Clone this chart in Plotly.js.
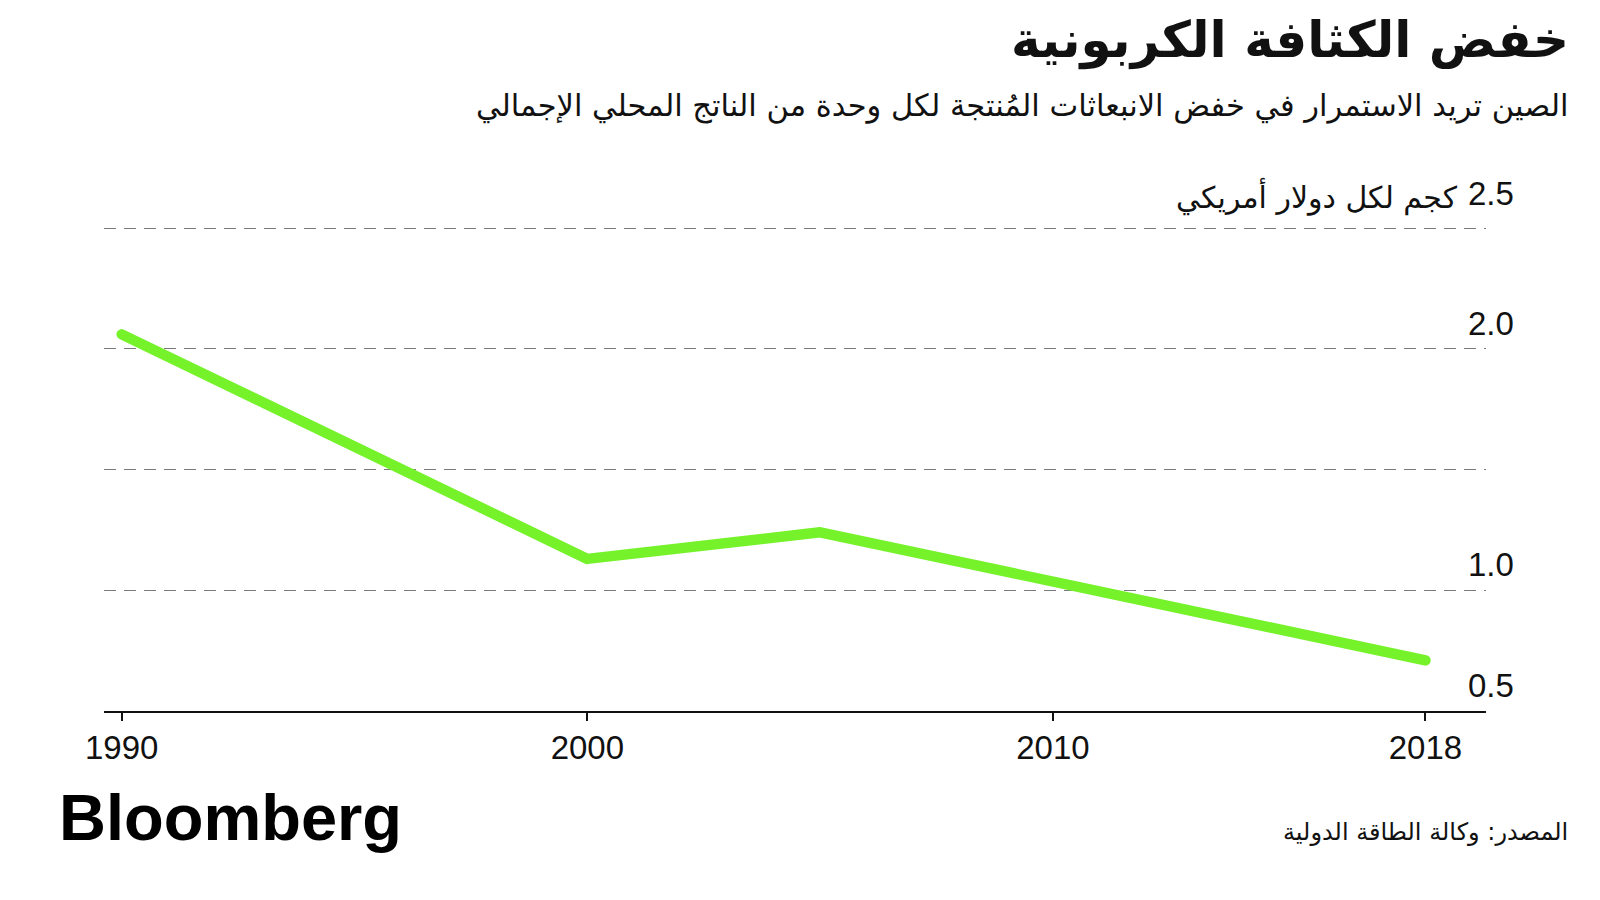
<!DOCTYPE html>
<html><head><meta charset="utf-8">
<script src="https://cdn.plot.ly/plotly-3.0.1.min.js"></script>
<style>
html,body{margin:0;padding:0;background:#fff;}
#chart{width:1600px;height:900px;}
.js-line{stroke-linecap:round !important;stroke-linejoin:round !important;}
</style>
</head><body><div id="chart"></div>
<script>
// ---- data ----
const years = [1990, 2000, 2005, 2010, 2015, 2018];
const intensity = [2.06, 1.13, 1.24, 1.04, 0.84, 0.71];
const xTickVals = [1990, 2000, 2010, 2018];
const xTickText = ['1990', '2000', '2010', '2018'];
const yGridVals = [0.5, 1.0, 1.5, 2.0, 2.5];
const yLabelVals = [0.5, 1.0, 2.0, 2.5];
const yLabelText = ['0.5', '1.0', '2.0', '2.5'];
const yUnit = 'كجم لكل دولار أمريكي';
const titleText = 'خفض الكثافة الكربونية';
const subtitleText = 'الصين تريد الاستمرار في خفض الانبعاثات المُنتجة لكل وحدة من الناتج المحلي الإجمالي';
const sourceText = 'المصدر: وكالة الطاقة الدولية';
const brandText = 'Bloomberg';

// ---- layout helpers ----
const W = 1600, H = 900;
const M = {l: 104, r: 114, t: 204, b: 189};
const pw = W - M.l - M.r, ph = H - M.t - M.b;
const px = p => (p - M.l) / pw;
const py = p => (H - M.b - p) / ph;
const arabic = '"DejaVu Sans", "Noto Sans", sans-serif';
const latin = '"Liberation Sans", Arial, sans-serif';

const annotations = [];
yLabelVals.forEach((v, i) => {
  const top = i === yLabelVals.length - 1;
  annotations.push({
    xref: 'paper', yref: 'y', x: px(1516), y: v, xanchor: 'right', yanchor: 'bottom',
    yshift: top ? 14 : 5, text: yLabelText[i], showarrow: false,
    font: {family: latin, size: 33, color: '#111'}
  });
});
annotations.push({
  xref: 'paper', yref: 'y', x: px(1460), y: yLabelVals[yLabelVals.length - 1],
  xanchor: 'right', yanchor: 'bottom', yshift: 10, text: yUnit, showarrow: false,
  font: {family: arabic, size: 30, color: '#111'}
});
annotations.push({
  xref: 'paper', yref: 'paper', x: px(1571), y: py(41), xanchor: 'right', yanchor: 'middle',
  text: '<b>' + titleText + '</b>', showarrow: false,
  font: {family: arabic, size: 50, color: '#111'}
});
annotations.push({
  xref: 'paper', yref: 'paper', x: px(1570), y: py(106), xanchor: 'right', yanchor: 'middle',
  text: subtitleText, showarrow: false,
  font: {family: arabic, size: 30.5, color: '#111'}
});
annotations.push({
  xref: 'paper', yref: 'paper', x: px(1570), y: py(832), xanchor: 'right', yanchor: 'middle',
  text: sourceText, showarrow: false,
  font: {family: arabic, size: 24, color: '#111'}
});
annotations.push({
  xref: 'paper', yref: 'paper', x: px(57), y: py(817), xanchor: 'left', yanchor: 'middle',
  text: '<b>' + brandText + '</b>', showarrow: false,
  font: {family: latin, size: 65, color: '#000'}
});

const trace = {
  x: years, y: intensity, type: 'scatter', mode: 'lines',
  line: {color: '#76F22B', width: 10.5},
  hoverinfo: 'skip'
};

const layout = {
  width: W, height: H,
  margin: M,
  paper_bgcolor: '#fff', plot_bgcolor: '#fff',
  showlegend: false,
  xaxis: {
    range: [1989.62, 2019.30],
    tickmode: 'array', tickvals: xTickVals, ticktext: xTickText,
    ticks: 'outside', ticklen: 8, tickwidth: 2, tickcolor: '#111',
    showline: true, linecolor: '#111', linewidth: 2,
    showgrid: false, zeroline: false,
    tickfont: {family: latin, size: 33, color: '#111'},
    ticklabelstandoff: -2
  },
  yaxis: {
    range: [0.5, 2.6],
    tickmode: 'array', tickvals: yGridVals,
    showticklabels: false, ticks: '',
    showgrid: true, gridcolor: '#7a7a7a', gridwidth: 1, griddash: '12px,8px',
    zeroline: false, showline: false
  },
  annotations: annotations
};

Plotly.newPlot('chart', [trace], layout, {staticPlot: true, displayModeBar: false});
</script>
</body></html>
